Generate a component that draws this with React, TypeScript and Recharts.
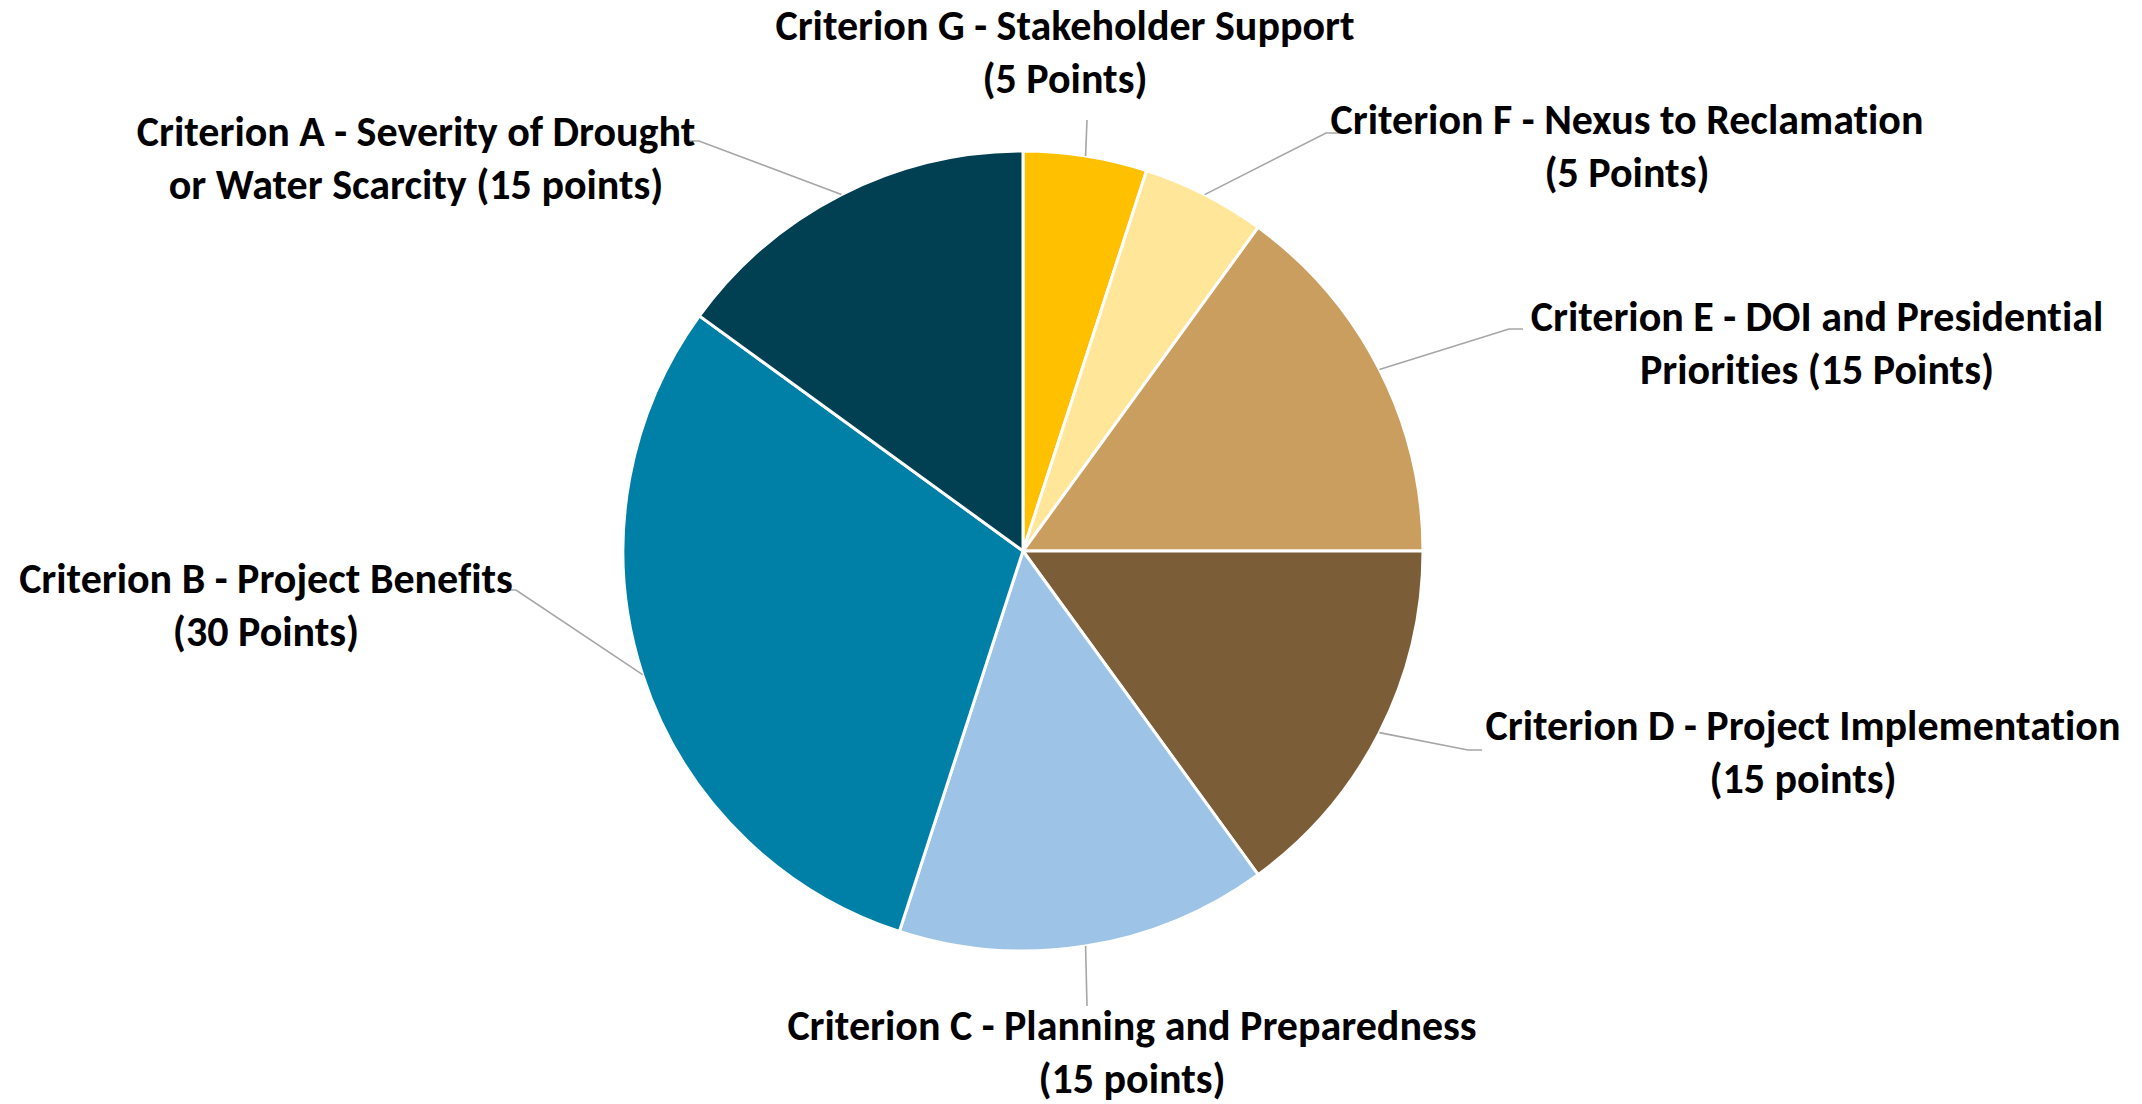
import { PieChart, Pie, Cell } from "recharts";

// slice order: clockwise from 12 o'clock
const criteria = ["G", "F", "E", "D", "C", "B", "A"];
const points = [5, 5, 15, 15, 15, 30, 15];
const titleLines = [
  "Criterion G - Stakeholder Support",
  "Criterion F - Nexus to Reclamation",
  "Criterion E - DOI and Presidential",
  "Criterion D - Project Implementation",
  "Criterion C - Planning and Preparedness",
  "Criterion B - Project Benefits",
  "Criterion A - Severity of Drought",
];
const subLines = [
  "(5 Points)",
  "(5 Points)",
  "Priorities (15 Points)",
  "(15 points)",
  "(15 points)",
  "(30 Points)",
  "or Water Scarcity (15 points)",
];
const colors = ["#FFC000", "#FFE699", "#CA9E5E", "#7B5E37", "#9DC3E6", "#0080A6", "#013F52"];

// label placement relative to pie centre: text centre, leader end, short elbow direction
const labelLayout = [
  { tx: 42, ty: -526, lx: 64, ly: -431, elbow: 0 },
  { tx: 604, ty: -432, lx: 303, ly: -418, elbow: 14 },
  { tx: 794, ty: -235, lx: 486, ly: -222, elbow: 14 },
  { tx: 780, ty: 174, lx: 445, ly: 199, elbow: 14 },
  { tx: 109, ty: 474, lx: 64, ly: 455, elbow: 0 },
  { tx: -757, ty: 27, lx: -507, ly: 39, elbow: -10 },
  { tx: -607, ty: -420, lx: -324, ly: -410, elbow: -10 },
];

const data = criteria.map((c, i) => ({ name: c, value: points[i] }));

const RAD = Math.PI / 180;
const LINE_GAP = 53;
const FONT = "Carlito, Calibri, Lato, sans-serif";

function renderLabel(props: any) {
  const { cx, cy, midAngle, outerRadius, index } = props;
  const lay = labelLayout[index];
  const sx = cx + outerRadius * Math.cos(-midAngle * RAD);
  const sy = cy + outerRadius * Math.sin(-midAngle * RAD);
  const ex = cx + lay.lx;
  const ey = cy + lay.ly;
  const path = lay.elbow
    ? `M${sx},${sy}L${ex},${ey}L${ex + lay.elbow},${ey}`
    : `M${sx},${sy}L${ex},${ey}`;
  const textProps = {
    x: cx + lay.tx,
    textAnchor: "middle" as const,
    dominantBaseline: "central" as const,
    fontFamily: FONT,
    fontWeight: "bold",
    fontSize: 42,
    fill: "#000",
    style: { fontVariantLigatures: "none" },
  };
  return (
    <g key={`lbl-${index}`}>
      <path d={path} stroke="#A6A6A6" strokeWidth={1.6} fill="none" />
      <text {...textProps} y={cy + lay.ty}>
        {titleLines[index]}
      </text>
      <text {...textProps} y={cy + lay.ty + LINE_GAP}>
        {subLines[index]}
      </text>
    </g>
  );
}

export default function App() {
  return (
    <div style={{ position: "absolute", left: 0, top: 0, width: 2142, height: 1104, background: "#fff" }}>
      <PieChart width={2142} height={1104} margin={{ top: 0, right: 0, bottom: 0, left: 0 }}>
        <Pie
          data={data}
          dataKey="value"
          nameKey="name"
          cx={1023}
          cy={551}
          outerRadius={400}
          startAngle={90}
          endAngle={-270}
          stroke="#FFFFFF"
          strokeWidth={3}
          label={renderLabel}
          labelLine={false}
          isAnimationActive={false}
        >
          {data.map((d, i) => (
            <Cell key={d.name} fill={colors[i]} />
          ))}
        </Pie>
      </PieChart>
    </div>
  );
}
